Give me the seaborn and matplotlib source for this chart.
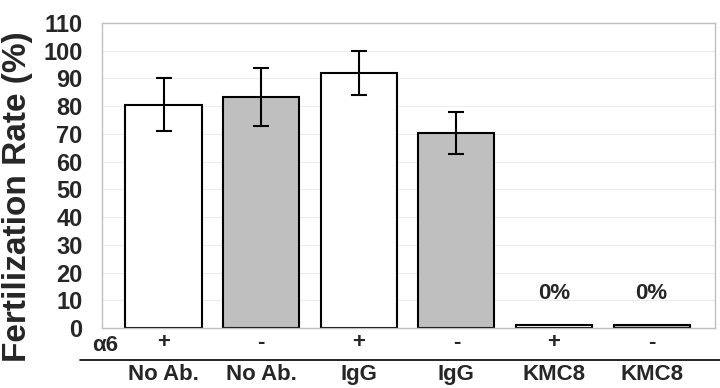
import pandas as pd
import seaborn as sns
from matplotlib import pyplot as plt

# values
groups = ['No Ab.', 'No Ab.', 'IgG', 'IgG', 'KMC8', 'KMC8']
alpha6 = ['+', '-', '+', '-', '+', '-']
rates = [80.5, 83.4, 92.0, 70.4, 1.0, 1.0]
errors = [9.5, 10.4, 8.0, 7.5, 0.0, 0.0]
zero_labels = ['', '', '', '', '0%', '0%']

df = pd.DataFrame({'key': [g + a + str(i) for i, (g, a) in enumerate(zip(groups, alpha6))],
                   'rate': rates})
palette = {k: ('white' if a == '+' else '#bfbfbf') for k, a in zip(df['key'], alpha6)}

sns.set_style('white')
plt.rcParams['font.family'] = ['Liberation Sans', 'DejaVu Sans']
plt.rcParams['font.weight'] = 'bold'

fig = plt.figure(figsize=(7.2, 3.88), dpi=100)
ax = fig.add_axes([0.1417, 0.1546, 0.8514, 0.7861])

sns.barplot(data=df, x='key', y='rate', hue='key', palette=palette, legend=False,
            edgecolor='black', linewidth=1.5, width=0.78, ax=ax)

centers = [p.get_x() + p.get_width() / 2 for p in ax.patches]
for xc, r, e in zip(centers, rates, errors):
    if e > 0:
        ax.errorbar(xc, r, yerr=e, color='black', capsize=6, capthick=1.5, elinewidth=1.5)
for xc, lab in zip(centers, zero_labels):
    if lab:
        ax.text(xc, 12.6, lab, ha='center', va='center', fontsize=16, fontweight='bold')

ax.set_ylim(0, 110)
ax.set_xlim(-0.63, 5.65)
ax.yaxis.grid(True, color='#ededed', linewidth=0.8)
ax.set_axisbelow(True)
for s in ax.spines.values():
    s.set_color('#c0c0c0')
    s.set_linewidth(1)

yticks = list(range(0, 111, 10))
ax.set_yticks(yticks)
ax.set_yticklabels([str(v) for v in yticks], fontsize=17, fontweight='bold')
ax.set_xticks(range(6))
ax.set_xticklabels(alpha6, fontsize=16, fontweight='bold')
ax.yaxis.set_tick_params(length=0, pad=14)
ax.xaxis.set_tick_params(length=0, pad=3)

ax.set_xlabel('')
ax.set_ylabel('Fertilization Rate (%)', fontsize=24, fontweight='bold')
ax.yaxis.set_label_coords(-0.112, 0.43)

trans = ax.get_xaxis_transform()
ax.text(0.005, -0.056, 'α6', transform=ax.transAxes, ha='center', va='center',
        fontsize=16, fontweight='bold')
ax.plot([-0.036, 1.01], [-0.105, -0.105], transform=ax.transAxes, color='black',
        linewidth=1.2, clip_on=False)
for i, g in enumerate(groups):
    ax.text(i, -0.154, g, transform=trans, ha='center', va='center',
            fontsize=16, fontweight='bold')

fig.savefig('out.png', dpi=100)
